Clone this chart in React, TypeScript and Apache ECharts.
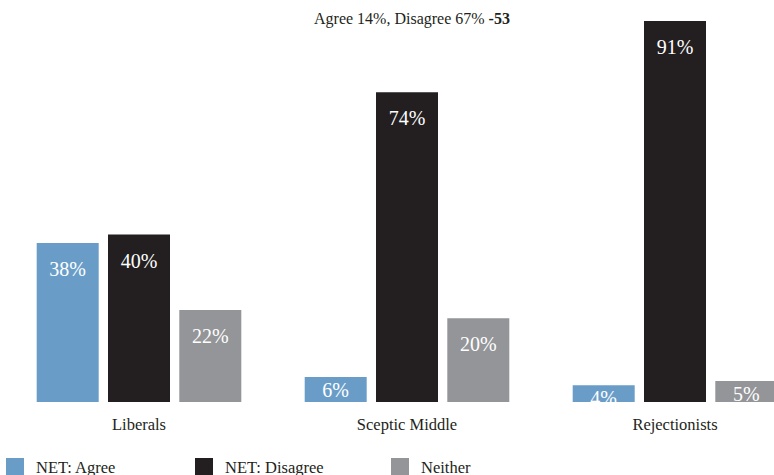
import React, { useEffect, useRef } from "react";
import * as echarts from "echarts";

const categories = ["Liberals", "Sceptic Middle", "Rejectionists"];
const seriesNames = ["NET: Agree", "NET: Disagree", "Neither"];
const agreeValues = [38, 6, 4];
const disagreeValues = [40, 74, 91];
const neitherValues = [22, 20, 5];
const colors = ["#699dc8", "#231f20", "#939598"];
const legendLefts = [6, 195, 391];

const FONT = "Liberation Serif";

export default function App() {
  const ref = useRef<HTMLDivElement>(null);
  useEffect(() => {
    if (!ref.current) return;
    const chart = echarts.init(ref.current, null, { renderer: "svg" });
    const allValues = [agreeValues, disagreeValues, neitherValues];
    const mkData = (vals: number[]) =>
      vals.map((v) => ({
        value: v,
        label: v < 10 ? { distance: 3 } : undefined,
      }));
    chart.setOption({
      animation: false,
      textStyle: { fontFamily: FONT },
      title: {
        text: "{n|Agree 14%, Disagree 67% }{b|-53}",
        left: 309,
        top: 5,
        textStyle: {
          fontWeight: "normal",
          rich: {
            n: { fontFamily: FONT, fontSize: 16, color: "#231f20", fontWeight: "normal" },
            b: { fontFamily: FONT, fontSize: 16, color: "#231f20", fontWeight: "bold" },
          },
        },
      },
      legend: seriesNames.map((name, i) => ({
        data: [name],
        left: legendLefts[i],
        top: 458,
        padding: 0,
        itemWidth: 18,
        itemHeight: 18,
        icon: "rect",
        textStyle: {
          fontFamily: FONT,
          fontSize: 16.5,
          color: "#231f20",
          padding: [0, 0, 0, 7],
        },
      })),
      grid: {
        left: 5,
        top: 21,
        width: 804,
        bottom: 73,
        containLabel: false,
        outerBoundsMode: "none",
      },
      xAxis: {
        type: "category",
        data: categories,
        axisLine: { show: false },
        axisTick: { show: false },
        axisLabel: { fontFamily: FONT, fontSize: 16.5, color: "#231f20", margin: 14 },
      },
      yAxis: {
        type: "value",
        min: 0,
        max: 91,
        show: false,
        splitLine: { show: false },
      },
      series: seriesNames.map((name, i) => ({
        name,
        type: "bar",
        barWidth: 62,
        barGap: "15%",
        itemStyle: { color: colors[i] },
        label: {
          show: true,
          position: "insideTop",
          distance: 16,
          color: "#ffffff",
          fontFamily: FONT,
          fontSize: 20,
          formatter: "{c}%",
        },
        data: mkData(allValues[i]),
      })),
    });
    return () => chart.dispose();
  }, []);
  return (
    <div
      ref={ref}
      style={{ position: "absolute", left: 0, top: 0, width: 774, height: 475 }}
    />
  );
}
